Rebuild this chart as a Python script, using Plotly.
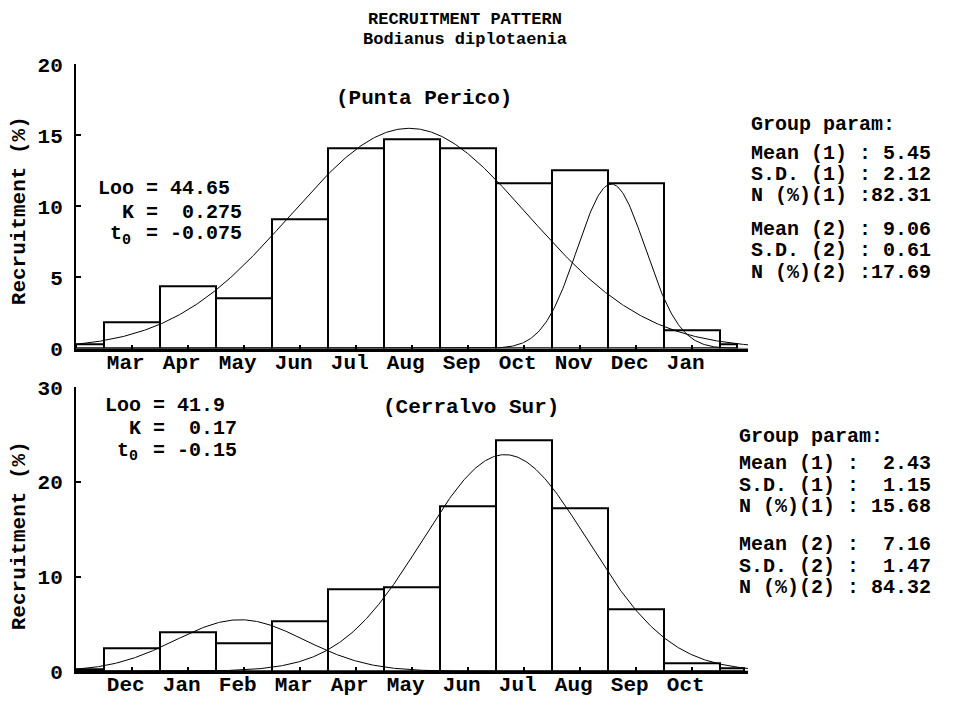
import numpy as np
import plotly.graph_objects as go

W, H = 959, 706

# ---- Punta Perico (upper panel) ----
pp_months = ["Mar", "Apr", "May", "Jun", "Jul", "Aug", "Sep", "Oct", "Nov", "Dec", "Jan"]
pp_recruit = [1.88, 4.37, 3.55, 9.12, 14.1, 14.7, 14.1, 11.6, 12.56, 11.6, 1.29]
pp_lead = 0.34          # partial bin before the first month
pp_tail = 0.34          # partial bin after the last month
pp_tail_width = 0.31
pp_mean = [5.45, 9.06]
pp_sd = [2.12, 0.61]
pp_n = [82.31, 17.69]
pp_loo, pp_k, pp_t0 = "44.65", "0.275", "-0.075"

# ---- Cerralvo Sur (lower panel) ----
cs_months = ["Dec", "Jan", "Feb", "Mar", "Apr", "May", "Jun", "Jul", "Aug", "Sep", "Oct"]
cs_recruit = [2.45, 4.1, 3.0, 5.3, 8.7, 8.9, 17.4, 24.4, 17.2, 6.5, 0.8]
cs_lead = 0.18
cs_tail = 0.3
cs_tail_width = 0.43
cs_mean = [2.43, 7.16]
cs_sd = [1.15, 1.47]
cs_n = [15.68, 84.32]
cs_loo, cs_k, cs_t0 = "41.9", "0.17", "-0.15"

PIX = "Liberation Mono"
NBSP = "\u00a0"


def px(x, y):
    return x / W, 1 - y / H


def gauss(x, m, s, n):
    return n / (s * np.sqrt(2 * np.pi)) * np.exp(-0.5 * ((x - m) / s) ** 2)


def bins(values, lead, tail, tail_w):
    centers = [-0.25] + [i + 0.5 for i in range(len(values))] + [len(values) + tail_w / 2]
    widths = [0.5] + [1.0] * len(values) + [tail_w]
    heights = [lead] + list(values) + [tail]
    return centers, widths, heights


fig = go.Figure()
xs = np.linspace(-0.5, 11.5, 600)

panels = [
    ("x", "y", pp_recruit, pp_lead, pp_tail, pp_tail_width, pp_mean, pp_sd, pp_n),
    ("x2", "y2", cs_recruit, cs_lead, cs_tail, cs_tail_width, cs_mean, cs_sd, cs_n),
]
for xa, ya, vals, lead, tail, tw, means, sds, ns in panels:
    c, w, h = bins(vals, lead, tail, tw)
    fig.add_trace(go.Bar(x=c, y=h, width=w, xaxis=xa, yaxis=ya,
                         marker=dict(color="white", line=dict(color="black", width=2)),
                         showlegend=False, hoverinfo="skip"))
    for m, s, n in zip(means, sds, ns):
        fig.add_trace(go.Scatter(x=xs, y=gauss(xs, m, s, n), mode="lines",
                                 line=dict(color="black", width=1),
                                 xaxis=xa, yaxis=ya, showlegend=False, hoverinfo="skip"))

xdom = [76 / W, 748 / W]
tick_font = dict(family=PIX, size=21, color="black", weight="bold")


def xaxis_cfg(months, anchor):
    return dict(domain=xdom, range=[-0.5, 11.5], anchor=anchor,
                showline=True, linewidth=3, linecolor="black",
                ticks="inside", ticklen=4, tickwidth=1.5, tickcolor="black",
                tickvals=[i + 0.5 for i in range(len(months))],
                ticktext=[m + NBSP for m in months],
                tickfont=tick_font, ticklabelstandoff=-8,
                showgrid=False, zeroline=False)


def yaxis_cfg(dom, top, step, anchor):
    return dict(domain=dom, range=[0, top], anchor=anchor,
                showline=True, linewidth=2, linecolor="black",
                ticks="inside", ticklen=5, tickwidth=1.5, tickcolor="black",
                tickvals=list(range(0, top + 1, step)),
                tickfont=tick_font, ticklabelstandoff=7,
                showgrid=False, zeroline=False)


fig.update_layout(
    width=W, height=H, margin=dict(l=0, r=0, t=0, b=0),
    paper_bgcolor="white", plot_bgcolor="white",
    bargap=0, showlegend=False,
    xaxis=xaxis_cfg(pp_months, "y"),
    yaxis=yaxis_cfg([1 - 350 / H, 1 - 56 / H], 20, 5, "x"),
    xaxis2=xaxis_cfg(cs_months, "y2"),
    yaxis2=yaxis_cfg([1 - 683.5 / H, 1 - 390 / H], 30, 10, "x2"),
)

annotations = []


def text(s, x, y, size=21, bold=True, xanchor="left", angle=0, family=PIX):
    ax, ay = px(x, y)
    annotations.append(dict(text=s, x=ax, y=ay, xref="paper", yref="paper",
                            xanchor=xanchor, yanchor="middle", showarrow=False,
                            textangle=angle, borderpad=0,
                            font=dict(family=family, size=size, color="black",
                                      weight="bold" if bold else "normal")))


# Titles
text("RECRUITMENT PATTERN", 465, 10, size=17, xanchor="center")
text("Bodianus diplotaenia", 465, 30, size=17, xanchor="center")
text("(Punta Perico)", 424, 91, xanchor="center")
text("(Cerralvo Sur)", 471, 411, xanchor="center")

# Axis titles
text("Recruitment (%)", 19, 208, angle=-90, xanchor="center")
text("Recruitment (%)", 19, 544, angle=-90, xanchor="center")

# Growth parameters (monospace cells of GADV px)
GSIZE = 20
GADV = 0.6 * GSIZE
for x0, y0, loo, k, t0 in [(97, 185, pp_loo, pp_k, pp_t0), (104, 409, cs_loo, cs_k, cs_t0)]:
    text(f"Loo = {loo}".replace(" ", NBSP), x0, y0, size=GSIZE)
    text(f"  K =  {k}".replace(" ", NBSP), x0, y0 + 24, size=GSIZE)
    text("t", x0 + GADV, y0 + 46, size=GSIZE)
    text("0", x0 + 2 * GADV, y0 + 53, size=15)
    text(f"= {t0}".replace(" ", NBSP), x0 + 4 * GADV, y0 + 46, size=GSIZE)


# Group parameters
def group_block(x0, ys, means, sds, ns, wide):
    fmt = (lambda v: f": {v:5.2f}") if wide else (lambda v: f":{v:5.2f}")
    lines = ["Group param:"]
    for i in range(2):
        lines += [f"Mean ({i+1}) " + fmt(means[i]),
                  f"S.D. ({i+1}) " + fmt(sds[i]),
                  f"N (%)({i+1}) " + fmt(ns[i])]
    for s, y in zip(lines, ys):
        text(s.replace(" ", NBSP), x0, y, size=20, bold=True)


group_block(750, [118, 148, 170, 192, 227, 249, 271], pp_mean, pp_sd, pp_n, False)
group_block(738, [441, 469, 491, 513, 553, 575, 597], cs_mean, cs_sd, cs_n, True)

fig.update_layout(annotations=annotations)
fig.write_html("out.html")
